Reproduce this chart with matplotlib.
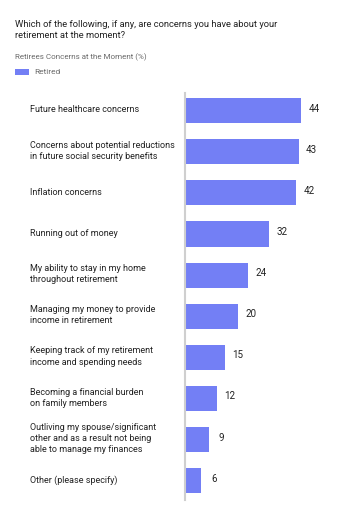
import matplotlib
matplotlib.use("Agg")
import matplotlib.pyplot as plt
from matplotlib.transforms import blended_transform_factory
from matplotlib.patches import Rectangle

# data
labels = [
    "Future healthcare concerns",
    "Concerns about potential reductions\nin future social security benefits",
    "Inflation concerns",
    "Running out of money",
    "My ability to stay in my home\nthroughout retirement",
    "Managing my money to provide\nincome in retirement",
    "Keeping track of my retirement\nincome and spending needs",
    "Becoming a financial burden\non family members",
    "Outliving my spouse/significant\nother and as a result not being\nable to manage my finances",
    "Other (please specify)",
]
values = [44, 43, 42, 32, 24, 20, 15, 12, 9, 6]

title = "Which of the following, if any, are concerns you have about your\nretirement at the moment?"
subtitle = "Retirees Concerns at the Moment (%)"
series_name = "Retired"

bar_color = "#737ff5"
text_color = "#222222"
grey = "#6b6b6b"

plt.rcParams['font.family'] = ['Roboto', 'DejaVu Sans']

W, H = 360, 519
fig = plt.figure(figsize=(W / 100, H / 100), dpi=100)
fig.patch.set_facecolor("white")

# axes placed in pixel terms
left, right, top, bottom = 185, 317, 93, 500
ax = fig.add_axes([left / W, 1 - bottom / H, (right - left) / W, (bottom - top) / H])

pos = list(range(len(values)))
ax.barh(pos, values, height=0.61, color=bar_color, zorder=2)
ax.set_xlim(0, 50)
ax.set_ylim(9.47, -0.43)

for s in ["top", "right", "bottom"]:
    ax.spines[s].set_visible(False)
ax.spines["left"].set_color("#cfcfcf")
ax.spines["left"].set_linewidth(1.5)
ax.set_xticks([])
ax.set_yticks([])

# value labels
for i, v in enumerate(values):
    ax.text(v + 4.9, i - 0.05, str(v), ha="center", va="center",
            fontsize=7, color=text_color)

# category labels
tr = blended_transform_factory(fig.transFigure, ax.transData)
for i, lab in enumerate(labels):
    ax.text(30 / W, i - 0.02, lab, transform=tr, ha="left", va="center",
            fontsize=6.5, color=text_color, linespacing=1.3)

# header
fig.text(15 / W, 1 - 20 / H, title, ha="left", va="top", fontsize=6.75,
         color=text_color, linespacing=1.35)
fig.text(15 / W, 1 - 57 / H, subtitle, ha="left", va="center", fontsize=5.8,
         color=grey)
fig.patches.append(Rectangle((15 / W, 1 - 75 / H), 14 / W, 6 / H,
                             transform=fig.transFigure, facecolor=bar_color,
                             edgecolor="none"))
fig.text(34 / W, 1 - 72 / H, series_name, ha="left", va="center", fontsize=6,
         color=grey)

fig.savefig("out.png", dpi=100, facecolor="white")
